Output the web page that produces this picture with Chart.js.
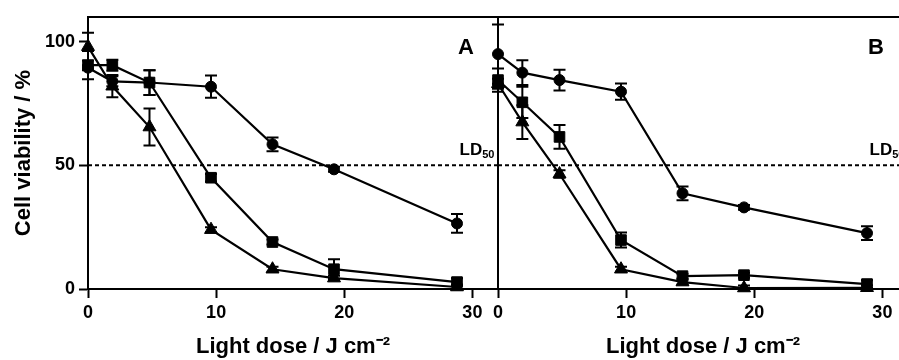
<!DOCTYPE html>
<html><head><meta charset="utf-8">
<script src="https://cdn.jsdelivr.net/npm/chart.js@4.4.0/dist/chart.umd.min.js"></script>
<style>
html,body{margin:0;padding:0;background:#fff;overflow:hidden;width:899px;height:360px;}
canvas{position:absolute;left:0;top:0;}
</style></head><body>
<canvas id="cA" width="899" height="360"></canvas>
<canvas id="cB" width="920" height="360"></canvas>
<script>
const doses = [0, 1.9, 4.8, 9.6, 14.4, 19.2, 28.8];
const xTicks = [0, 10, 20, 30];
const yTicks = [0, 50, 100];
const ld50 = 50;

const panelA_circle      = [89.5, 84, 83.5, 81.8, 58.5, 48.4, 26.5];
const panelA_circleErr   = [1, 2, 5, 4.5, 2.8, 1, 3.8];
const panelA_square      = [90.5, 90.5, 83.5, 45, 19, 8, 2.8];
const panelA_squareErr   = [5.7, 2.2, 5, 1.5, 1, 4, 1.5];
const panelA_triangle    = [98, 82, 65.5, 24, 8, 4.4, 0.8];
const panelA_triangleErr = [5.6, 4.5, 7.5, 1, 1, 1, 1];

const panelB_circle      = [95, 87.5, 84.5, 79.8, 38.7, 33, 22.6];
const panelB_circleErr   = [12, 5, 4.2, 3.3, 2.8, 1, 2.8];
const panelB_square      = [84.5, 75.5, 61.5, 19.8, 5.2, 5.6, 2];
const panelB_squareErr   = [4.7, 6.3, 4.8, 3, 1, 1, 1.5];
const panelB_triangle    = [83, 67.5, 46.5, 8, 2.8, 0.4, 0.5];
const panelB_triangleErr = [2, 6.8, 1.5, 1, 1, 1, 1];

const FONT = '"Liberation Sans", Arial, Helvetica, sans-serif';
Chart.defaults.font.family = FONT;
Chart.defaults.color = '#000';

const errorBarPlugin = {
  id: 'errorBars',
  beforeDatasetsDraw(chart) {
    const {ctx, scales: {x, y}} = chart;
    ctx.save();
    ctx.strokeStyle = '#000';
    ctx.lineWidth = 2;
    chart.data.datasets.forEach(ds => {
      if (!ds.errors) return;
      ds.data.forEach((p, i) => {
        const e = ds.errors[i];
        if (!e) return;
        const px = x.getPixelForValue(p.x);
        const yt = y.getPixelForValue(p.y + e);
        const yb = y.getPixelForValue(p.y - e);
        ctx.beginPath();
        ctx.moveTo(px, yt); ctx.lineTo(px, yb);
        ctx.moveTo(px - 6, yt); ctx.lineTo(px + 6, yt);
        ctx.moveTo(px - 6, yb); ctx.lineTo(px + 6, yb);
        ctx.stroke();
      });
    });
    ctx.restore();
  }
};

const framePlugin = {
  id: 'frame',
  afterDraw(chart, args, opts) {
    const {ctx, chartArea: {left, right, top}, scales: {x, y}} = chart;
    ctx.save();
    ctx.strokeStyle = '#000';
    ctx.lineWidth = 2;
    ctx.beginPath(); ctx.moveTo(left - 1, top); ctx.lineTo(right, top); ctx.stroke();
    ctx.fillStyle = '#000';
    ctx.font = 'bold 22px ' + FONT;
    ctx.textAlign = 'center';
    ctx.textBaseline = 'alphabetic';
    ctx.fillText(opts.letter, x.getPixelForValue(29.5), y.getPixelForValue(95));
    ctx.textAlign = 'left';
    ctx.font = 'bold 17px ' + FONT;
    const lx = x.getPixelForValue(29), ly = y.getPixelForValue(54);
    ctx.fillText('LD', lx, ly);
    const w = ctx.measureText('LD').width;
    ctx.font = 'bold 11px ' + FONT;
    ctx.fillText('50', lx + w, ly + 3);
    ctx.restore();
  }
};

function series(vals, errs, style, radius) {
  return {
    data: doses.map((d, i) => ({x: d, y: vals[i]})),
    errors: errs,
    showLine: true,
    borderColor: '#000',
    backgroundColor: '#000',
    borderWidth: 2.2,
    pointStyle: style,
    pointRadius: radius,
    pointBorderWidth: 1,
    pointBorderColor: '#000',
    pointBackgroundColor: '#000',
    clip: false,
    tension: 0
  };
}

function makePanel(id, letter, circ, circE, sq, sqE, tri, triE, isLeft) {
  const tickGrid = {display: true, drawOnChartArea: false, drawTicks: true, tickLength: 9, tickWidth: 2, tickColor: '#000', color: '#000'};
  return new Chart(document.getElementById(id), {
    type: 'scatter',
    data: {
      datasets: [
        series(circ, circE, 'circle', 5.5),
        series(sq, sqE, 'rect', 7.5),
        series(tri, triE, 'triangle', 7.5),
        {
          data: [{x: 0, y: ld50}, {x: 32, y: ld50}],
          showLine: true, borderColor: '#000', borderWidth: 2, borderDash: [4, 3],
          pointRadius: 0, clip: false
        }
      ]
    },
    options: {
      responsive: false,
      animation: false,
      devicePixelRatio: 1,
      events: [],
      layout: {padding: isLeft ? {left: 0, right: 401, top: 17, bottom: 0} : {left: 498, right: 12, top: 17, bottom: 0}},
      plugins: {legend: {display: false}, tooltip: {enabled: false}, frame: {letter: letter}},
      scales: {
        x: {
          type: 'linear', min: 0, max: 32,
          afterBuildTicks: s => { s.ticks = xTicks.map(v => ({value: v})); },
          afterFit: s => { s.height = 71; },
          grid: tickGrid,
          border: {display: true, color: '#000', width: 2},
          ticks: {color: '#000', font: {size: 18, weight: 'bold'}, padding: 4, maxRotation: 0, autoSkip: false},
          title: {display: true, text: 'Light dose / J cm⁻²', color: '#000', font: {size: 22, weight: 'bold'}, padding: {top: 0, bottom: 0}}
        },
        y: {
          type: 'linear', min: 0, max: 110,
          afterBuildTicks: s => { s.ticks = yTicks.map(v => ({value: v})); },
          afterFit: s => { s.width = isLeft ? 88 : 0; },
          grid: isLeft ? tickGrid : {display: true, drawOnChartArea: false, drawTicks: false},
          border: {display: true, color: '#000', width: 2},
          ticks: {display: isLeft, color: '#000', font: {size: 18, weight: 'bold'}, padding: 4},
          title: {display: isLeft, text: 'Cell viability / %', color: '#000', font: {size: 22, weight: 'bold'}, padding: {top: 11, bottom: 0}}
        }
      }
    },
    plugins: [errorBarPlugin, framePlugin]
  });
}

makePanel('cA', 'A', panelA_circle, panelA_circleErr, panelA_square, panelA_squareErr, panelA_triangle, panelA_triangleErr, true);
makePanel('cB', 'B', panelB_circle, panelB_circleErr, panelB_square, panelB_squareErr, panelB_triangle, panelB_triangleErr, false);
</script>
</body></html>
